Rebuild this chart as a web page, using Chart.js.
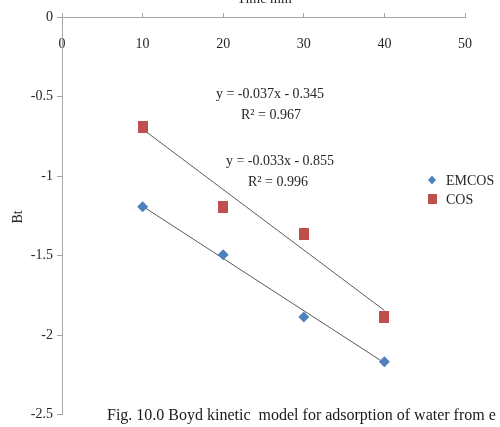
<!DOCTYPE html>
<html>
<head>
<meta charset="utf-8">
<script src="https://cdn.jsdelivr.net/npm/chart.js@4/dist/chart.umd.min.js"></script>
<style>
  html, body { margin: 0; padding: 0; background: #fff; }
  #wrap { width: 500px; height: 427px; position: relative; }
</style>
</head>
<body>
<div id="wrap"><canvas id="c" width="500" height="427"></canvas></div>
<script>
// ---- data ----
const timeMin = [10, 20, 30, 40];
const emcosBt = [-1.193, -1.495, -1.886, -2.167];
const cosBt   = [-0.694, -1.193, -1.366, -1.886];
const trendX      = [10, 40];
const emcosTrend  = [-1.19, -2.175];
const cosTrend    = [-0.705, -1.845];
const xTicks = [0, 10, 20, 30, 40, 50];
const yTicks = [0, -0.5, -1, -1.5, -2, -2.5];
const seriesNames = ['EMCOS', 'COS'];
const eqTexts = [
  ['y = -0.037x - 0.345', 'R² = 0.967'],
  ['y = -0.033x - 0.855', 'R² = 0.996']
];
const xTitle = 'Time min';
const yTitle = 'Bt';
const caption = 'Fig. 10.0 Boyd kinetic  model for adsorption of water from e';

const BLUE = '#4F81BD';
const RED = '#C0504D';
const SERIF = '"Liberation Serif", "Times New Roman", serif';

// red rectangle marker (slightly taller than wide, like Excel's)
function rectMarker(w, h, color) {
  const c = document.createElement('canvas');
  c.width = w; c.height = h;
  const g = c.getContext('2d');
  g.fillStyle = color;
  g.fillRect(0, 0, w, h);
  return c;
}
const redRect = rectMarker(10, 12, RED);

const toXY = (xs, ys) => xs.map((x, i) => ({ x: x, y: ys[i] }));

const textPlugin = {
  id: 'texts',
  afterDraw(chart) {
    const ctx = chart.ctx;
    const xs = chart.scales.x;
    ctx.save();
    ctx.fillStyle = '#262626';
    ctx.textAlign = 'center';
    ctx.textBaseline = 'alphabetic';
    // x title (cut off at top)
    ctx.font = '14px ' + SERIF;
    ctx.fillText(xTitle, xs.getPixelForValue(25) + 1, 3);
    // y title
    ctx.save();
    ctx.translate(22, 217);
    ctx.rotate(-Math.PI / 2);
    ctx.fillText(yTitle, 0, 0);
    ctx.restore();
    // equations
    ctx.font = '14px ' + SERIF;
    ctx.fillText(eqTexts[0][0], 270, 98);
    ctx.fillText(eqTexts[0][1], 271, 119);
    ctx.fillText(eqTexts[1][0], 280, 165);
    ctx.fillText(eqTexts[1][1], 278, 186);
    // legend
    ctx.textAlign = 'left';
    ctx.fillText(seriesNames[0], 446, 185);
    ctx.fillText(seriesNames[1], 446, 204);
    ctx.fillStyle = BLUE;
    ctx.beginPath();
    ctx.moveTo(432, 175.5); ctx.lineTo(436, 180); ctx.lineTo(432, 184.5); ctx.lineTo(428, 180);
    ctx.closePath(); ctx.fill();
    ctx.fillStyle = RED;
    ctx.fillRect(428, 194, 9, 10);
    // caption
    ctx.fillStyle = '#1a1a1a';
    ctx.font = '16px ' + SERIF;
    ctx.fillText(caption, 107, 420);
    ctx.restore();
  }
};

new Chart(document.getElementById('c'), {
  type: 'scatter',
  data: {
    datasets: [
      {
        label: 'EMCOS trend', type: 'line', data: toXY(trendX, emcosTrend),
        borderColor: '#5a5a5a', borderWidth: 1, pointRadius: 0, fill: false, order: 2
      },
      {
        label: 'COS trend', type: 'line', data: toXY(trendX, cosTrend),
        borderColor: '#5a5a5a', borderWidth: 1, pointRadius: 0, fill: false, order: 2
      },
      {
        label: seriesNames[0], data: toXY(timeMin, emcosBt),
        pointStyle: 'rectRot', pointRadius: 5.5, pointHoverRadius: 5.5,
        backgroundColor: BLUE, borderColor: BLUE, borderWidth: 0, order: 1
      },
      {
        label: seriesNames[1], data: toXY(timeMin, cosBt),
        pointStyle: redRect, pointRadius: 6,
        backgroundColor: RED, borderColor: RED, borderWidth: 0, order: 1
      }
    ]
  },
  options: {
    responsive: false,
    animation: false,
    events: [],
    layout: { padding: { left: 0, right: 35, top: 0, bottom: 9 } },
    plugins: { legend: { display: false }, tooltip: { enabled: false }, title: { display: false } },
    scales: {
      x: {
        type: 'linear', position: 'top', min: 0, max: 50,
        afterBuildTicks: (s) => { s.ticks = xTicks.map(v => ({ value: v })); },
        afterFit: (s) => { s.height = 17; },
        grid: { drawOnChartArea: false, drawTicks: true, tickLength: 4, color: '#a6a6a6' },
        border: { display: true, color: '#a6a6a6', width: 1 },
        ticks: {
          mirror: true, padding: 19, color: '#262626',
          font: { family: SERIF, size: 14 }, maxRotation: 0,
          callback: (v) => String(v)
        },
        title: { display: false }
      },
      y: {
        type: 'linear', position: 'left', min: -2.5, max: 0,
        afterBuildTicks: (s) => { s.ticks = yTicks.map(v => ({ value: v })); },
        afterFit: (s) => { s.width = 62; },
        grid: { drawOnChartArea: false, drawTicks: true, tickLength: 5, color: '#a6a6a6' },
        border: { display: true, color: '#a6a6a6', width: 1 },
        ticks: {
          padding: 4, color: '#262626', font: { family: SERIF, size: 14 },
          callback: (v) => String(v)
        },
        title: { display: false }
      }
    }
  },
  plugins: [textPlugin]
});
</script>
</body>
</html>
